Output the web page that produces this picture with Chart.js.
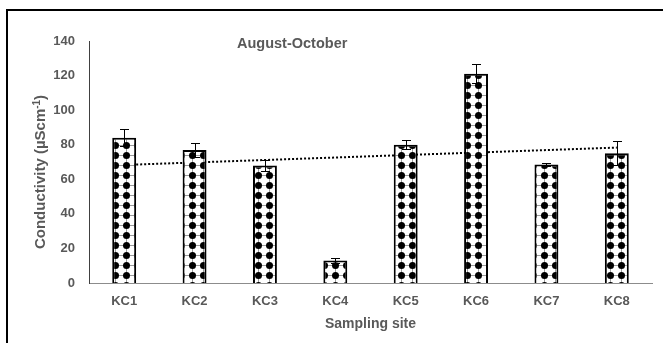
<!DOCTYPE html>
<html>
<head>
<meta charset="utf-8">
<script src="https://cdn.jsdelivr.net/npm/chart.js@4.4.1/dist/chart.umd.min.js"></script>
<style>
  html, body { margin: 0; padding: 0; background: #fff; overflow: hidden; }
  #wrap { position: relative; width: 663px; height: 343px; }
  #frame { position: absolute; left: 6px; top: 9px; width: 720px; height: 420px;
           border: 2px solid #000; box-sizing: border-box; }
  #c { position: absolute; left: 0; top: 0; }
</style>
</head>
<body>
<div id="wrap">
  <div id="frame"></div>
  <canvas id="c" width="663" height="343"></canvas>
</div>
<script>
// Sampling sites along the river, August-October
const sites = ['KC1', 'KC2', 'KC3', 'KC4', 'KC5', 'KC6', 'KC7', 'KC8'];
// Mean conductivity (µS/cm) and standard deviation per site
const conductivity = [84, 77, 68, 13, 80, 121, 68.5, 75];
const conductivityError = [5, 4, 3, 1.5, 2.5, 5.5, 1, 7];
// Y-axis tick range
const yTicks = [0, 20, 40, 60, 80, 100, 120, 140];

// Linear trend line (least squares over site index)
function linearTrend(values) {
  const n = values.length;
  const xs = values.map((_, i) => i + 1);
  const mx = xs.reduce((a, b) => a + b, 0) / n;
  const my = values.reduce((a, b) => a + b, 0) / n;
  let num = 0, den = 0;
  xs.forEach((x, i) => { num += (x - mx) * (values[i] - my); den += (x - mx) * (x - mx); });
  const slope = num / den;
  return xs.map(x => my + slope * (x - mx));
}
const trend = linearTrend(conductivity);

// Dotted fill for the bars
function dotPattern() {
  const tile = document.createElement('canvas');
  tile.width = 11; tile.height = 10;
  const t = tile.getContext('2d');
  t.fillStyle = '#fff';
  t.fillRect(0, 0, 11, 10);
  t.strokeStyle = '#9a9a9a';
  t.lineWidth = 1;
  t.beginPath();
  t.moveTo(0, 5.5); t.lineTo(11, 5.5);
  t.moveTo(5.5, 0); t.lineTo(5.5, 10);
  t.stroke();
  t.fillStyle = '#000';
  t.beginPath();
  t.arc(5.5, 5.5, 3.5, 0, Math.PI * 2);
  t.fill();
  return document.getElementById('c').getContext('2d').createPattern(tile, 'repeat');
}

const FONT = "'Liberation Sans', Arial, sans-serif";
const TEXT = '#595959';

// Error bars, the period label and the rotated y-axis title
const annotations = {
  id: 'annotations',
  afterDatasetsDraw(chart) {
    const ctx = chart.ctx;
    const meta = chart.getDatasetMeta(1);
    const y = chart.scales.y;
    ctx.save();
    ctx.strokeStyle = '#000';
    ctx.lineWidth = 1;
    meta.data.forEach((bar, i) => {
      const x = Math.round(bar.x) + 0.5;
      const hi = Math.round(y.getPixelForValue(conductivity[i] + conductivityError[i])) + 0.5;
      const lo = Math.round(y.getPixelForValue(conductivity[i] - conductivityError[i])) + 0.5;
      ctx.beginPath();
      ctx.moveTo(x, lo); ctx.lineTo(x, hi);
      ctx.moveTo(x - 4.5, hi); ctx.lineTo(x + 4.5, hi);
      ctx.moveTo(x - 4.5, lo); ctx.lineTo(x + 4.5, lo);
      ctx.stroke();
    });
    ctx.restore();
  },
  afterDraw(chart) {
    const ctx = chart.ctx;
    ctx.save();
    ctx.fillStyle = TEXT;
    ctx.font = 'bold 14.5px ' + FONT;
    ctx.textBaseline = 'alphabetic';
    ctx.textAlign = 'left';
    ctx.fillText('August-October', 237, 48);

    // y-axis title with superscript unit
    ctx.translate(41, 172);
    ctx.rotate(-Math.PI / 2);
    const main = 'Conductivity (µScm';
    const sup = '-1';
    const close = ')';
    ctx.font = 'bold 15px ' + FONT;
    const wMain = ctx.measureText(main).width;
    const wClose = ctx.measureText(close).width;
    ctx.font = 'bold 10px ' + FONT;
    const wSup = ctx.measureText(sup).width;
    let x = -(wMain + wSup + wClose) / 2;
    ctx.textBaseline = 'middle';
    ctx.font = 'bold 15px ' + FONT;
    ctx.fillText(main, x, 0);
    x += wMain;
    ctx.font = 'bold 10px ' + FONT;
    ctx.fillText(sup, x, -4);
    x += wSup;
    ctx.font = 'bold 15px ' + FONT;
    ctx.fillText(close, x, 0);
    ctx.restore();
  }
};

new Chart(document.getElementById('c'), {
  data: {
    labels: sites,
    datasets: [
      {
        type: 'line',
        label: 'Linear trend',
        data: trend,
        borderColor: '#000',
        borderWidth: 2,
        borderDash: [2, 2],
        pointRadius: 0,
        fill: false,
        order: 2
      },
      {
        type: 'bar',
        label: 'Conductivity',
        data: conductivity,
        backgroundColor: dotPattern(),
        borderColor: '#000',
        borderWidth: 2,
        barPercentage: 0.34,
        categoryPercentage: 1,
        order: 1
      }
    ]
  },
  options: {
    responsive: false,
    devicePixelRatio: 1,
    animation: false,
    layout: { padding: { left: 0, right: 11, top: 41, bottom: 0 } },
    plugins: { legend: { display: false }, tooltip: { enabled: false } },
    scales: {
      x: {
        grid: { display: false, drawTicks: false },
        border: { display: true, color: '#8c8c8c', width: 1 },
        ticks: { color: TEXT, padding: 11, font: { family: FONT, size: 13, weight: 'bold' } },
        title: {
          display: true, text: 'Sampling site', color: TEXT,
          font: { family: FONT, size: 14, weight: 'bold' },
          padding: { top: 0, bottom: 10 }
        },
        afterFit(scale) { scale.height = 60; }
      },
      y: {
        min: yTicks[0],
        max: yTicks[yTicks.length - 1],
        grid: { display: false, drawTicks: false },
        border: { display: true, color: '#404040', width: 1 },
        ticks: {
          stepSize: yTicks[1] - yTicks[0],
          color: TEXT, padding: 14,
          font: { family: FONT, size: 13, weight: 'bold' }
        },
        afterFit(scale) { scale.width = 89; }
      }
    }
  },
  plugins: [annotations]
});
</script>
</body>
</html>
